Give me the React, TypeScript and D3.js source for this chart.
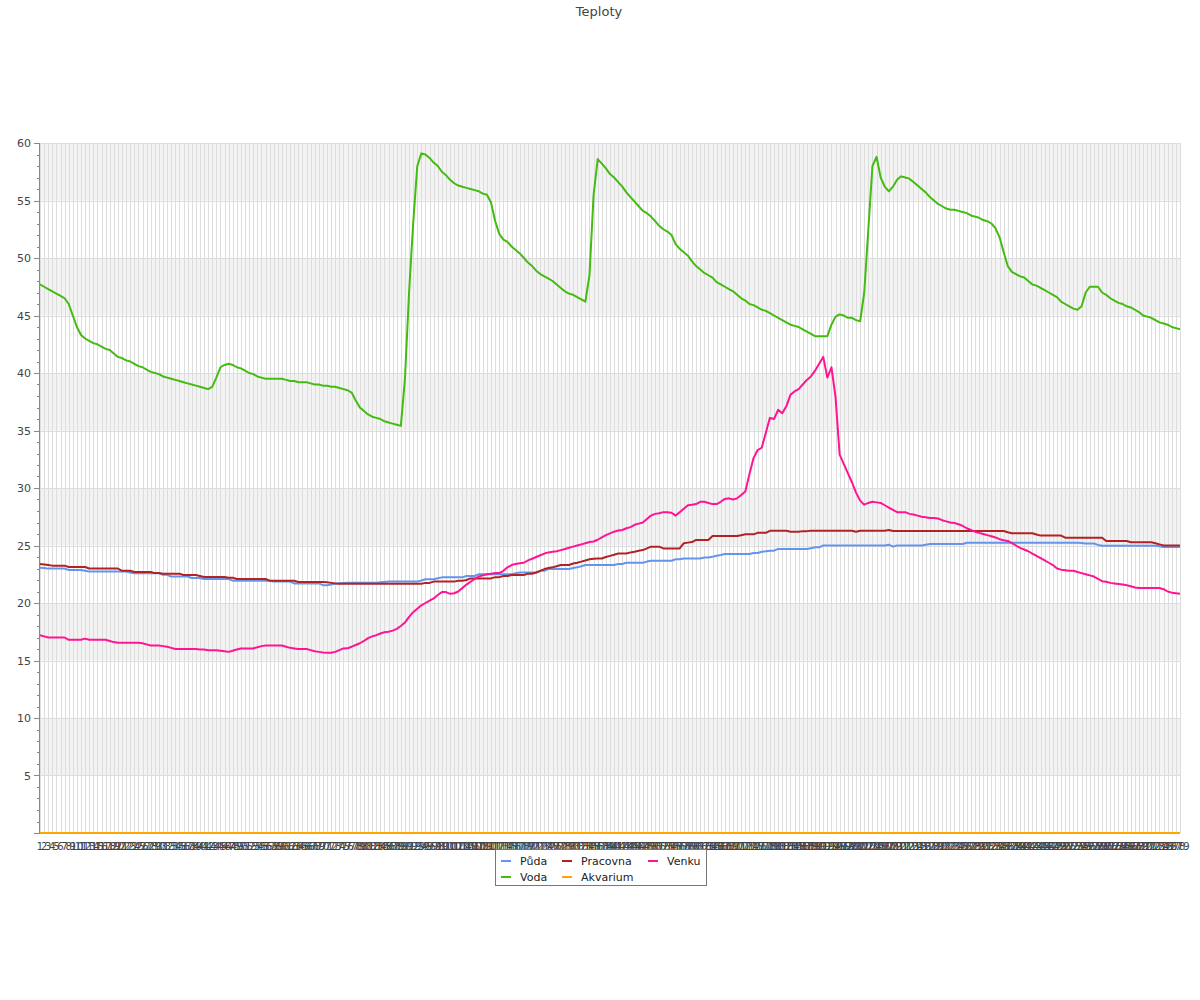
import * as d3 from "d3";
import React from "react";

const title = "Teploty";

// x categories 1..279 (one reading per step)
const labels: string[] = Array.from({ length: 279 }, (_, i) => String(i + 1));

const puda = [
  23.07, 23.05, 22.99, 22.99, 22.99, 22.99, 22.99, 22.87, 22.87, 22.87,
  22.87, 22.8, 22.73, 22.73, 22.73, 22.73, 22.73, 22.73, 22.73, 22.73,
  22.73, 22.73, 22.65, 22.58, 22.58, 22.58, 22.58, 22.58, 22.58, 22.58,
  22.45, 22.45, 22.3, 22.3, 22.3, 22.3, 22.3, 22.17, 22.17, 22.17,
  22.09, 22.09, 22.09, 22.09, 22.09, 22.09, 22.09, 21.94, 21.94, 21.94,
  21.94, 21.94, 21.94, 21.94, 21.94, 21.94, 21.94, 21.86, 21.86, 21.86,
  21.86, 21.86, 21.7, 21.7, 21.7, 21.7, 21.7, 21.7, 21.7, 21.55,
  21.55, 21.6, 21.7, 21.72, 21.74, 21.76, 21.77, 21.77, 21.77, 21.77,
  21.77, 21.77, 21.77, 21.8, 21.83, 21.86, 21.86, 21.86, 21.86, 21.86,
  21.86, 21.86, 21.86, 21.95, 22.06, 22.06, 22.06, 22.15, 22.23, 22.23,
  22.23, 22.23, 22.23, 22.23, 22.35, 22.35, 22.35, 22.5, 22.5, 22.5,
  22.5, 22.5, 22.5, 22.5, 22.5, 22.5, 22.58, 22.65, 22.65, 22.65,
  22.65, 22.65, 22.8, 22.8, 22.96, 22.96, 22.96, 22.96, 22.96, 22.96,
  23.05, 23.1, 23.2, 23.3, 23.3, 23.3, 23.3, 23.3, 23.3, 23.3,
  23.3, 23.39, 23.39, 23.5, 23.5, 23.5, 23.5, 23.5, 23.6, 23.68,
  23.68, 23.68, 23.68, 23.68, 23.68, 23.8, 23.8, 23.87, 23.87, 23.87,
  23.87, 23.87, 23.95, 23.95, 24.02, 24.1, 24.17, 24.26, 24.26, 24.26,
  24.26, 24.26, 24.26, 24.26, 24.35, 24.35, 24.46, 24.5, 24.55, 24.55,
  24.7, 24.7, 24.7, 24.7, 24.7, 24.7, 24.7, 24.7, 24.77, 24.84,
  24.84, 25.0, 25.0, 25.0, 25.0, 25.0, 25.0, 25.0, 25.0, 25.0,
  25.0, 25.0, 25.0, 25.0, 25.0, 25.0, 25.0, 25.07, 24.9, 25.0,
  25.0, 25.0, 25.0, 25.0, 25.0, 25.0, 25.07, 25.13, 25.13, 25.13,
  25.13, 25.13, 25.13, 25.13, 25.13, 25.13, 25.24, 25.24, 25.24, 25.24,
  25.24, 25.24, 25.24, 25.24, 25.24, 25.24, 25.24, 25.24, 25.24, 25.24,
  25.24, 25.24, 25.24, 25.24, 25.24, 25.24, 25.24, 25.24, 25.24, 25.24,
  25.24, 25.24, 25.24, 25.24, 25.22, 25.17, 25.17, 25.17, 25.05, 24.98,
  24.98, 24.98, 24.98, 24.98, 24.98, 24.98, 24.98, 24.98, 24.98, 24.98,
  24.98, 24.98, 24.98, 24.93, 24.87, 24.87, 24.87, 24.87, 24.87,
];

const pracovna = [
  23.4, 23.35, 23.3, 23.25, 23.25, 23.25, 23.25, 23.13, 23.13, 23.13,
  23.13, 23.13, 23.0, 23.0, 23.0, 23.0, 23.0, 23.0, 23.0, 23.0,
  22.8, 22.8, 22.8, 22.7, 22.7, 22.7, 22.7, 22.7, 22.6, 22.6,
  22.55, 22.55, 22.55, 22.55, 22.55, 22.43, 22.43, 22.43, 22.43, 22.35,
  22.26, 22.26, 22.26, 22.26, 22.26, 22.26, 22.2, 22.2, 22.09, 22.09,
  22.09, 22.09, 22.09, 22.09, 22.09, 22.09, 21.94, 21.94, 21.94, 21.94,
  21.94, 21.94, 21.94, 21.83, 21.83, 21.83, 21.83, 21.83, 21.83, 21.83,
  21.8, 21.75, 21.7, 21.68, 21.68, 21.68, 21.68, 21.68, 21.68, 21.68,
  21.68, 21.68, 21.68, 21.68, 21.68, 21.68, 21.68, 21.68, 21.68, 21.68,
  21.68, 21.68, 21.68, 21.68, 21.75, 21.75, 21.86, 21.86, 21.86, 21.86,
  21.86, 21.86, 21.93, 21.93, 22.0, 22.14, 22.14, 22.14, 22.14, 22.14,
  22.14, 22.25, 22.25, 22.35, 22.35, 22.43, 22.43, 22.43, 22.43, 22.55,
  22.55, 22.65, 22.8, 22.95, 23.05, 23.1, 23.2, 23.3, 23.3, 23.3,
  23.43, 23.5, 23.6, 23.7, 23.8, 23.85, 23.87, 23.87, 24.0, 24.1,
  24.2, 24.3, 24.3, 24.3, 24.4, 24.45, 24.55, 24.6, 24.75, 24.9,
  24.9, 24.9, 24.75, 24.75, 24.75, 24.75, 24.75, 25.2, 25.25, 25.3,
  25.48, 25.48, 25.48, 25.48, 25.83, 25.83, 25.83, 25.83, 25.83, 25.83,
  25.83, 25.9, 25.97, 25.97, 25.97, 26.1, 26.1, 26.1, 26.28, 26.28,
  26.28, 26.28, 26.28, 26.2, 26.2, 26.2, 26.25, 26.25, 26.28, 26.28,
  26.28, 26.28, 26.28, 26.28, 26.28, 26.28, 26.28, 26.28, 26.28, 26.2,
  26.28, 26.28, 26.28, 26.28, 26.28, 26.28, 26.28, 26.35, 26.26, 26.26,
  26.26, 26.26, 26.26, 26.26, 26.26, 26.26, 26.26, 26.26, 26.26, 26.26,
  26.26, 26.26, 26.26, 26.26, 26.26, 26.26, 26.26, 26.26, 26.26, 26.26,
  26.26, 26.26, 26.26, 26.26, 26.26, 26.26, 26.15, 26.06, 26.06, 26.06,
  26.06, 26.06, 26.06, 25.95, 25.86, 25.86, 25.86, 25.86, 25.86, 25.86,
  25.68, 25.68, 25.68, 25.68, 25.68, 25.68, 25.68, 25.68, 25.68, 25.68,
  25.39, 25.39, 25.39, 25.39, 25.39, 25.39, 25.28, 25.28, 25.28, 25.28,
  25.28, 25.28, 25.2, 25.1, 25.0, 25.0, 25.0, 25.0, 25.0,
];

const venku = [
  17.2, 17.1, 17.0, 17.0, 17.0, 17.0, 17.0, 16.8, 16.8, 16.8,
  16.8, 16.9, 16.8, 16.8, 16.8, 16.8, 16.8, 16.7, 16.6, 16.55,
  16.55, 16.55, 16.55, 16.55, 16.55, 16.5, 16.4, 16.3, 16.3, 16.3,
  16.25, 16.2, 16.1, 16.0, 16.0, 16.0, 16.0, 16.0, 16.0, 15.95,
  15.95, 15.9, 15.9, 15.9, 15.85, 15.8, 15.75, 15.85, 15.95, 16.05,
  16.05, 16.05, 16.05, 16.15, 16.25, 16.3, 16.3, 16.3, 16.3, 16.3,
  16.2, 16.1, 16.05, 16.0, 16.0, 16.0, 15.9, 15.8, 15.75, 15.7,
  15.68, 15.68, 15.75, 15.9, 16.05, 16.06, 16.2, 16.35, 16.5, 16.7,
  16.95, 17.1, 17.2, 17.35, 17.45, 17.5, 17.6, 17.75, 18.0, 18.3,
  18.8, 19.2, 19.5, 19.8, 20.0, 20.2, 20.4, 20.7, 20.95, 20.95,
  20.8, 20.85, 21.0, 21.3, 21.6, 21.85, 22.1, 22.3, 22.4, 22.5,
  22.55, 22.6, 22.6, 22.8, 23.1, 23.3, 23.4, 23.45, 23.5, 23.7,
  23.85, 24.0, 24.15, 24.3, 24.4, 24.45, 24.5, 24.6, 24.7, 24.8,
  24.9, 25.0, 25.1, 25.2, 25.3, 25.35, 25.5, 25.7, 25.9, 26.05,
  26.2, 26.3, 26.35, 26.5, 26.6, 26.8, 26.9, 27.0, 27.3, 27.6,
  27.75, 27.8, 27.9, 27.9, 27.85, 27.6, 27.9, 28.2, 28.5, 28.55,
  28.6, 28.8, 28.8, 28.7, 28.6, 28.6, 28.8, 29.05, 29.1, 29.0,
  29.1, 29.4, 29.7, 31.2, 32.6, 33.3, 33.5, 34.8, 36.1, 36.0,
  36.8, 36.5, 37.1, 38.1, 38.4, 38.6, 39.0, 39.4, 39.7, 40.2,
  40.8, 41.4, 39.6, 40.5, 37.9, 32.9, 32.1, 31.3, 30.5, 29.6,
  28.9, 28.55, 28.7, 28.8, 28.75, 28.7, 28.5, 28.3, 28.1, 27.9,
  27.9, 27.9, 27.75, 27.7, 27.6, 27.5, 27.45, 27.4, 27.4, 27.35,
  27.2, 27.1, 27.0, 26.95, 26.85, 26.7, 26.5, 26.35, 26.2, 26.1,
  26.0, 25.9, 25.8, 25.7, 25.55, 25.45, 25.4, 25.2, 25.0, 24.8,
  24.65, 24.5, 24.3, 24.1, 23.9, 23.7, 23.5, 23.3, 23.0, 22.9,
  22.85, 22.8, 22.8, 22.7, 22.6, 22.5, 22.4, 22.3, 22.1, 21.9,
  21.85, 21.75, 21.7, 21.65, 21.6, 21.55, 21.45, 21.35, 21.3, 21.3,
  21.3, 21.3, 21.3, 21.3, 21.2, 21.0, 20.9, 20.85, 20.8,
];

const voda = [
  47.7, 47.5, 47.3, 47.1, 46.9, 46.7, 46.5, 46.0, 45.0, 44.0,
  43.3, 43.0, 42.8, 42.6, 42.5, 42.3, 42.1, 42.0, 41.7, 41.4,
  41.3, 41.1, 41.0, 40.8, 40.6, 40.5, 40.3, 40.1, 40.0, 39.9,
  39.7, 39.6, 39.5, 39.4, 39.3, 39.2, 39.1, 39.0, 38.9, 38.8,
  38.7, 38.6, 38.8, 39.6, 40.5, 40.7, 40.8, 40.7, 40.5, 40.4,
  40.2, 40.0, 39.9, 39.7, 39.6, 39.5, 39.5, 39.5, 39.5, 39.5,
  39.4, 39.3, 39.3, 39.2, 39.2, 39.2, 39.1, 39.0, 39.0, 38.9,
  38.9, 38.8, 38.8, 38.7, 38.6, 38.5, 38.3, 37.6, 37.0, 36.7,
  36.4, 36.2, 36.1, 36.0, 35.8, 35.7, 35.6, 35.5, 35.4, 39.5,
  47.0, 53.0, 58.0, 59.1, 59.0, 58.7, 58.3, 58.0, 57.5, 57.2,
  56.8, 56.5, 56.3, 56.2, 56.1, 56.0, 55.9, 55.8, 55.6, 55.5,
  54.8, 53.2, 52.1, 51.6, 51.4, 51.0, 50.7, 50.4, 50.0, 49.6,
  49.3, 48.9, 48.6, 48.4, 48.2, 48.0, 47.7, 47.4, 47.1, 46.9,
  46.8, 46.6, 46.4, 46.2, 48.5, 55.5, 58.6, 58.2, 57.8, 57.3,
  57.0, 56.6, 56.2, 55.7, 55.3, 54.9, 54.5, 54.1, 53.9, 53.6,
  53.2, 52.8, 52.5, 52.3, 52.0, 51.2, 50.8, 50.5, 50.2, 49.7,
  49.3, 49.0, 48.7, 48.5, 48.3, 47.9, 47.7, 47.5, 47.3, 47.1,
  46.8, 46.5, 46.3, 46.0, 45.9, 45.7, 45.5, 45.4, 45.2, 45.0,
  44.8, 44.6, 44.4, 44.2, 44.1, 44.0, 43.8, 43.6, 43.4, 43.2,
  43.2, 43.2, 43.2, 44.2, 44.9, 45.1, 45.0, 44.8, 44.8, 44.6,
  44.5, 47.0, 52.5, 58.0, 58.8, 57.0, 56.2, 55.8, 56.2, 56.8,
  57.1, 57.0, 56.9, 56.6, 56.3, 56.0, 55.7, 55.3, 55.0, 54.7,
  54.5, 54.3, 54.2, 54.2, 54.1, 54.0, 53.9, 53.7, 53.6, 53.5,
  53.3, 53.2, 53.0, 52.6, 51.8, 50.5, 49.3, 48.8, 48.6, 48.4,
  48.3, 48.0, 47.7, 47.6, 47.4, 47.2, 47.0, 46.8, 46.6, 46.2,
  46.0, 45.8, 45.6, 45.5, 45.8, 47.0, 47.5, 47.5, 47.5, 47.0,
  46.8, 46.5, 46.3, 46.1, 46.0, 45.8, 45.7, 45.5, 45.3, 45.0,
  44.9, 44.8, 44.6, 44.4, 44.3, 44.2, 44.0, 43.9, 43.8,
];

const akvarium = [
  0, 0, 0, 0, 0, 0, 0, 0, 0, 0, 0, 0, 0, 0, 0, 0, 0, 0, 0, 0,
  0, 0, 0, 0, 0, 0, 0, 0, 0, 0, 0, 0, 0, 0, 0, 0, 0, 0, 0, 0,
  0, 0, 0, 0, 0, 0, 0, 0, 0, 0, 0, 0, 0, 0, 0, 0, 0, 0, 0, 0,
  0, 0, 0, 0, 0, 0, 0, 0, 0, 0, 0, 0, 0, 0, 0, 0, 0, 0, 0, 0,
  0, 0, 0, 0, 0, 0, 0, 0, 0, 0, 0, 0, 0, 0, 0, 0, 0, 0, 0, 0,
  0, 0, 0, 0, 0, 0, 0, 0, 0, 0, 0, 0, 0, 0, 0, 0, 0, 0, 0, 0,
  0, 0, 0, 0, 0, 0, 0, 0, 0, 0, 0, 0, 0, 0, 0, 0, 0, 0, 0, 0,
  0, 0, 0, 0, 0, 0, 0, 0, 0, 0, 0, 0, 0, 0, 0, 0, 0, 0, 0, 0,
  0, 0, 0, 0, 0, 0, 0, 0, 0, 0, 0, 0, 0, 0, 0, 0, 0, 0, 0, 0,
  0, 0, 0, 0, 0, 0, 0, 0, 0, 0, 0, 0, 0, 0, 0, 0, 0, 0, 0, 0,
  0, 0, 0, 0, 0, 0, 0, 0, 0, 0, 0, 0, 0, 0, 0, 0, 0, 0, 0, 0,
  0, 0, 0, 0, 0, 0, 0, 0, 0, 0, 0, 0, 0, 0, 0, 0, 0, 0, 0, 0,
  0, 0, 0, 0, 0, 0, 0, 0, 0, 0, 0, 0, 0, 0, 0, 0, 0, 0, 0, 0,
  0, 0, 0, 0, 0, 0, 0, 0, 0, 0, 0, 0, 0, 0, 0, 0, 0, 0, 0,
];

const series = [
  { name: "Půda", color: "#6495ed", values: puda },
  { name: "Voda", color: "#44bb11", values: voda },
  { name: "Pracovna", color: "#b22222", values: pracovna },
  { name: "Akvarium", color: "#ffa500", values: akvarium },
  { name: "Venku", color: "#ff1493", values: venku },
];

const yTicks = [0, 5, 10, 15, 20, 25, 30, 35, 40, 45, 50, 55, 60];

const font = "DejaVu Sans, Verdana, sans-serif";

export default function App() {
  const width = 1200;
  const height = 1000;
  const left = 40,
    right = 1180,
    top = 143,
    bottom = 833;

  const x = d3.scalePoint<string>().domain(labels).range([left, right]);
  const y = d3.scaleLinear().domain([0, 60]).range([bottom, top]);

  const line = d3
    .line<number>()
    .x((_, i) => x(labels[i]) as number)
    .y((d) => y(d));

  const minor = d3.range(0, 61, 1).filter((v) => v % 5 !== 0);

  // grey bands: 5-10, 15-20, ... 55-60
  const bands = yTicks.filter((v) => v % 10 === 5 && v < 60);

  // legend: 3 columns, 2 rows
  const legendCols = [501, 562, 648];
  const legendRows = [861, 877];
  const legendOrder = ["Půda", "Pracovna", "Venku", "Voda", "Akvarium"];

  return (
    <svg
      width={width}
      height={height}
      style={{ position: "absolute", left: 0, top: 0, background: "#fff" }}
      fontFamily={font}
    >
      <text x={599} y={16} textAnchor="middle" fontSize={13} fill="#444">
        {title}
      </text>

      {/* background bands */}
      {bands.map((v) => (
        <rect
          key={v}
          x={left}
          y={y(v + 5)}
          width={right - left}
          height={y(v) - y(v + 5)}
          fill="#f3f3f3"
        />
      ))}

      {/* vertical grid */}
      {labels.map((l) => (
        <line
          key={l}
          x1={Math.round(x(l) as number) + 0.5}
          x2={Math.round(x(l) as number) + 0.5}
          y1={top}
          y2={bottom}
          stroke="#dddddd"
        />
      ))}

      {/* horizontal grid */}
      {yTicks.map((v) => (
        <line
          key={v}
          x1={left}
          x2={right}
          y1={Math.round(y(v)) + 0.5}
          y2={Math.round(y(v)) + 0.5}
          stroke="#dddddd"
        />
      ))}

      {/* y axis */}
      <line x1={left - 0.5} x2={left - 0.5} y1={top} y2={bottom} stroke="#888" />
      {yTicks.map((v) => (
        <g key={v}>
          <line
            x1={left - 6}
            x2={left}
            y1={Math.round(y(v)) + 0.5}
            y2={Math.round(y(v)) + 0.5}
            stroke="#888"
          />
          {v > 0 && (
            <text
              x={31}
              y={y(v) + 4}
              textAnchor="end"
              fontSize={11}
              fill="#444"
            >
              {v}
            </text>
          )}
        </g>
      ))}
      {minor.map((v) => (
        <line
          key={v}
          x1={left - 3}
          x2={left}
          y1={Math.round(y(v)) + 0.5}
          y2={Math.round(y(v)) + 0.5}
          stroke="#888"
        />
      ))}

      {/* x axis */}
      <line x1={left} x2={right} y1={bottom + 0.5} y2={bottom + 0.5} stroke="#888" />
      {labels.map((l) => (
        <text
          key={l}
          x={x(l)}
          y={850}
          textAnchor="middle"
          fontSize={10}
          fill="#444"
        >
          {l}
        </text>
      ))}

      {/* series */}
      {series.map((s) => (
        <path
          key={s.name}
          d={line(s.values) ?? ""}
          fill="none"
          stroke={s.color}
          strokeWidth={2}
          strokeLinejoin="round"
        />
      ))}

      {/* legend */}
      <rect x={495.5} y={849.5} width={211} height={36} fill="#fff" stroke="#777" />
      {legendOrder.map((name, i) => {
        const s = series.find((d) => d.name === name)!;
        const cx = legendCols[i % 3];
        const cy = legendRows[Math.floor(i / 3)];
        return (
          <g key={name}>
            <line x1={cx} x2={cx + 10} y1={cy} y2={cy} stroke={s.color} strokeWidth={2} />
            <text x={cx + 19} y={cy + 4} fontSize={11} fill="#222">
              {name}
            </text>
          </g>
        );
      })}
    </svg>
  );
}
